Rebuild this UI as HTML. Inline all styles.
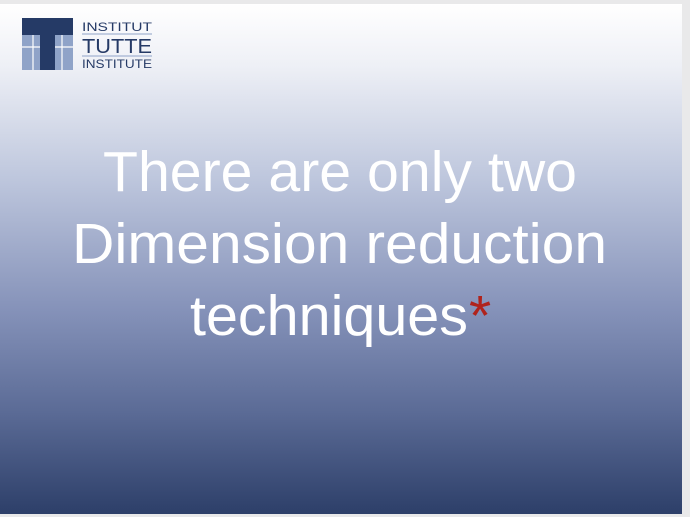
<!DOCTYPE html>
<html><head><meta charset="utf-8"><style>
html,body{margin:0;padding:0;width:690px;height:517px;overflow:hidden;background:#e9e9ea;}
</style></head><body>
<svg width="690" height="517" viewBox="0 0 690 517" style="display:block">
<defs><linearGradient id="g" x1="0" y1="0" x2="0" y2="1">
<stop offset="0" stop-color="#ffffff"/>
<stop offset="0.12" stop-color="#eef0f6"/>
<stop offset="0.35" stop-color="#bcc5dc"/>
<stop offset="0.6" stop-color="#8592b9"/>
<stop offset="0.8" stop-color="#5b6b96"/>
<stop offset="1" stop-color="#2d3f69"/>
</linearGradient></defs>
<rect x="0" y="4" width="682" height="510" fill="url(#g)"/>
<g>
<rect x="22" y="18" width="51" height="52" fill="#8fa3c8"/>
<rect x="22" y="18" width="51" height="17" fill="#253a66"/>
<rect x="40" y="18" width="15" height="52" fill="#253a66"/>
<line x1="22" y1="47" x2="40" y2="47" stroke="#fff" stroke-width="1.2"/>
<line x1="55" y1="47" x2="73" y2="47" stroke="#fff" stroke-width="1.2"/>
<line x1="33" y1="35" x2="33" y2="70" stroke="#fff" stroke-width="1.2"/>
<line x1="62" y1="35" x2="62" y2="70" stroke="#fff" stroke-width="1.2"/>
<text x="82" y="31" font-family="Liberation Sans, sans-serif" font-size="12" fill="#253a66" textLength="70" lengthAdjust="spacingAndGlyphs">INSTITUT</text>
<line x1="82" y1="34" x2="152" y2="34" stroke="#8fa3c8" stroke-width="1"/>
<text x="82" y="53" font-family="Liberation Sans, sans-serif" font-size="20" fill="#253a66" textLength="70" lengthAdjust="spacingAndGlyphs">TUTTE</text>
<line x1="82" y1="56" x2="152" y2="56" stroke="#8fa3c8" stroke-width="1"/>
<text x="82" y="68" font-family="Liberation Sans, sans-serif" font-size="12" fill="#253a66" textLength="70" lengthAdjust="spacingAndGlyphs">INSTITUTE</text>
</g>
<g font-family="Liberation Sans, sans-serif" font-size="57" fill="#ffffff">
<text x="103" y="191" textLength="474" lengthAdjust="spacingAndGlyphs">There are only two</text>
<text x="72" y="263" textLength="535" lengthAdjust="spacingAndGlyphs">Dimension reduction</text>
<text x="190" y="335" textLength="278" lengthAdjust="spacingAndGlyphs">techniques</text>
<text x="469" y="335" fill="#b0231c">*</text>
</g>
</svg>
</body></html>
